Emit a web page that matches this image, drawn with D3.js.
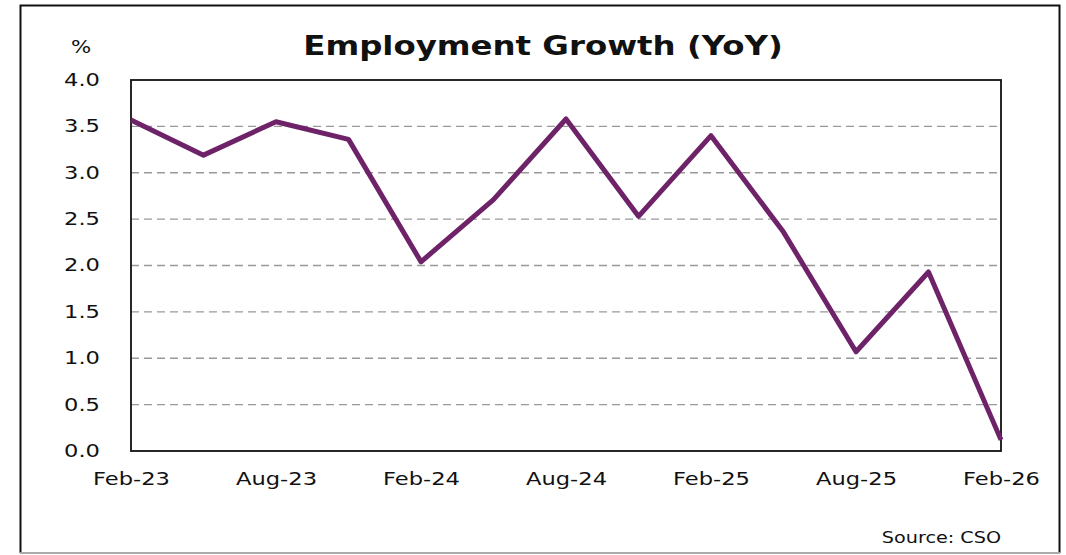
<!DOCTYPE html>
<html><head><meta charset="utf-8">
<script src="https://cdn.jsdelivr.net/npm/d3@7"></script>
<style>body{margin:0;background:#fff;} text{font-family:"DejaVu Sans",sans-serif;}</style>
</head><body>
<svg id="c" width="1066" height="555"></svg>
<script>
const categories = ["Feb-23","May-23","Aug-23","Nov-23","Feb-24","May-24","Aug-24","Nov-24","Feb-25","May-25","Aug-25","Nov-25","Feb-26"];
const values = [3.57,3.19,3.55,3.36,2.04,2.71,3.58,2.53,3.40,2.36,1.07,1.93,0.12];
const xTickLabels = ["Feb-23","Aug-23","Feb-24","Aug-24","Feb-25","Aug-25","Feb-26"];
const yTicks = [0,0.5,1,1.5,2,2.5,3,3.5,4];

const svg = d3.select("#c");
const L=131, R=1001, T=80, B=451;
const x = d3.scalePoint().domain(categories).range([L,R]);
const y = d3.scaleLinear().domain([0,4]).range([B,T]);

// outer frame
svg.append("path").attr("d","M20.5,553 V5.5 H1059.5 V553")
  .attr("fill","none").attr("stroke","#111").attr("stroke-width",2);
svg.append("line").attr("x1",20).attr("x2",1060).attr("y1",553).attr("y2",553)
  .attr("stroke","#aaa").attr("stroke-width",2);

// gridlines
svg.append("g").selectAll("line").data(yTicks.filter(d=>d>0&&d<4)).join("line")
  .attr("x1",L).attr("x2",R).attr("y1",d=>y(d)).attr("y2",d=>y(d))
  .attr("stroke","#999").attr("stroke-width",1.3).attr("stroke-dasharray","8,5");

// plot box
svg.append("rect").attr("x",L).attr("y",T).attr("width",R-L).attr("height",B-T)
  .attr("fill","none").attr("stroke","#111").attr("stroke-width",1.8);

// y axis labels
const yAxis = d3.axisLeft(y).tickValues(yTicks).tickFormat(d3.format(".1f")).tickSize(0).tickPadding(31);
const gy = svg.append("g").attr("transform",`translate(${L},0)`).call(yAxis);
gy.select(".domain").remove();
gy.selectAll("text").attr("font-size",17).attr("fill","#111").style("font-family","DejaVu Sans")
  .attr("x",0).attr("transform","translate(-31,0) scale(1.33,1)");

// x axis labels
const xAxis = d3.axisBottom(x).tickValues(xTickLabels).tickSize(0).tickPadding(22);
const gx = svg.append("g").attr("transform",`translate(0,${B})`).call(xAxis);
gx.select(".domain").remove();
gx.selectAll("text").attr("font-size",17).attr("fill","#111").style("font-family","DejaVu Sans")
  .attr("transform","scale(1.33,1)");

// line
const line = d3.line().x((d,i)=>x(categories[i])).y(d=>y(d));
svg.append("path").datum(values).attr("d",line).attr("fill","none")
  .attr("stroke","#6E2369").attr("stroke-width",5).attr("stroke-linejoin","round");

// title
svg.append("text").attr("transform","translate(543,55) scale(1.2,1)").attr("text-anchor","middle")
  .attr("font-size",27).attr("font-weight","bold").attr("fill","#111").text("Employment Growth (YoY)");
svg.append("text").attr("transform","translate(81,53) scale(1.25,1)").attr("text-anchor","middle")
  .attr("font-size",17).attr("fill","#111").text("%");
svg.append("text").attr("transform","translate(1001,543) scale(1.28,1)").attr("text-anchor","end")
  .attr("font-size",15).attr("fill","#111").text("Source: CSO");
</script>
</body></html>
